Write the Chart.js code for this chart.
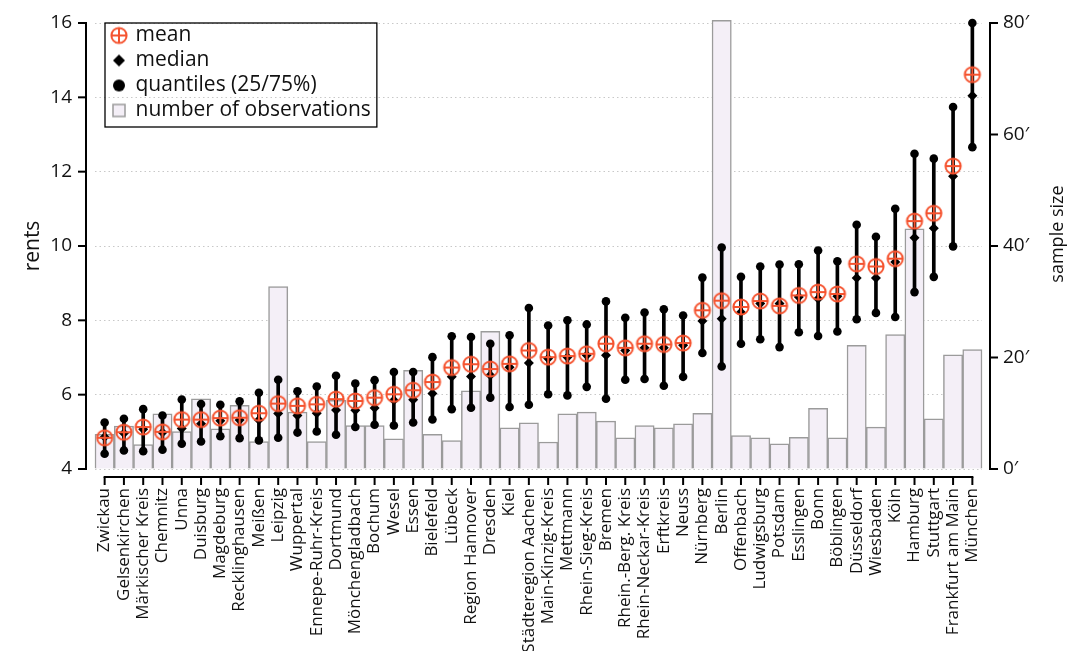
<!DOCTYPE html>
<html>
<head>
<meta charset="utf-8">
<script src="https://cdn.jsdelivr.net/npm/chart.js@4"></script>
<style>
    body { margin: 0; background: #fff; }
    #wrap { position: relative; width: 1070px; height: 651px; }
    #wrap canvas { position: absolute; left: 0; top: 0; }
    #overlay { pointer-events: none; }
</style>
</head>
<body>
<div id="wrap">
    <canvas id="rentChart" width="1070" height="651"></canvas>
    <canvas id="overlay" width="1070" height="651"></canvas>
</div>
<script>
// Data
const cities = ["Zwickau", "Gelsenkirchen", "Märkischer Kreis", "Chemnitz", "Unna", "Duisburg", "Magdeburg",
    "Recklinghausen", "Meißen", "Leipzig", "Wuppertal", "Ennepe-Ruhr-Kreis", "Dortmund", "Mönchengladbach",
    "Bochum", "Wesel", "Essen", "Bielefeld", "Lübeck", "Region Hannover", "Dresden", "Kiel",
    "Städteregion Aachen", "Main-Kinzig-Kreis", "Mettmann", "Rhein-Sieg-Kreis", "Bremen", "Rhein.-Berg. Kreis",
    "Rhein-Neckar-Kreis", "Erftkreis", "Neuss", "Nürnberg", "Berlin", "Offenbach", "Ludwigsburg", "Potsdam",
    "Esslingen", "Bonn", "Böblingen", "Düsseldorf", "Wiesbaden", "Köln", "Hamburg", "Stuttgart",
    "Frankfurt am Main", "München"];

const meanRent = [4.84, 4.99, 5.13, 5.00, 5.33, 5.33, 5.37, 5.38, 5.50, 5.76, 5.70, 5.74, 5.88, 5.83, 5.92,
    6.01, 6.12, 6.34, 6.73, 6.82, 6.69, 6.83, 7.19, 7.01, 7.04, 7.10, 7.37, 7.26, 7.37, 7.35, 7.39, 8.27,
    8.53, 8.36, 8.52, 8.39, 8.67, 8.76, 8.71, 9.52, 9.45, 9.66, 10.67, 10.88, 12.15, 14.61];

const medianRent = [4.86, 4.96, 5.07, 4.98, 5.09, 5.22, 5.30, 5.32, 5.32, 5.49, 5.44, 5.50, 5.59, 5.58, 5.64,
    5.85, 5.86, 6.03, 6.48, 6.49, 6.52, 6.74, 6.85, 6.97, 7.01, 7.06, 7.06, 7.19, 7.26, 7.26, 7.33, 7.98,
    8.04, 8.22, 8.45, 8.45, 8.63, 8.58, 8.65, 9.14, 9.14, 9.57, 10.22, 10.48, 11.88, 14.04];

const q25Rent = [4.41, 4.50, 4.48, 4.52, 4.68, 4.74, 4.88, 4.83, 4.77, 4.84, 4.98, 5.01, 4.92, 5.13, 5.19,
    5.17, 5.25, 5.33, 5.61, 5.65, 5.92, 5.67, 5.73, 6.01, 5.98, 6.21, 5.89, 6.40, 6.42, 6.24, 6.48, 7.12,
    6.76, 7.37, 7.49, 7.28, 7.68, 7.58, 7.70, 8.03, 8.20, 8.09, 8.76, 9.17, 9.99, 12.66];

const q75Rent = [5.25, 5.35, 5.61, 5.44, 5.87, 5.75, 5.73, 5.82, 6.05, 6.40, 6.09, 6.22, 6.51, 6.30, 6.39,
    6.61, 6.61, 7.01, 7.57, 7.55, 7.37, 7.60, 8.33, 7.86, 8.00, 7.89, 8.51, 8.07, 8.21, 8.30, 8.13, 9.15,
    9.96, 9.17, 9.45, 9.50, 9.51, 9.88, 9.59, 10.57, 10.25, 11.00, 12.48, 12.35, 13.74, 16.00];

// number of observations (thousands)
const sampleSize = [6.2, 7.7, 4.4, 9.9, 6.7, 12.6, 7.2, 11.4, 4.9, 32.7, 10.2, 4.9, 12.3, 7.8, 7.8, 5.4,
    17.7, 6.2, 5.1, 14.0, 24.7, 7.4, 8.3, 4.85, 9.9, 10.2, 8.6, 5.6, 7.8, 7.4, 8.1, 10.0, 80.5, 6.0, 5.6,
    4.5, 5.7, 10.9, 5.6, 22.2, 7.5, 24.1, 43.1, 9.0, 20.5, 21.4];

const rentTicks = [4, 6, 8, 10, 12, 14, 16];
const sizeTicks = [0, 20, 40, 60, 80];

const ORANGE = "#f5532f";
const BAR_FILL = "#f4eff7";
const BAR_EDGE = "#9b9b9b";
const FONT = "'Open Sans', sans-serif";

Chart.defaults.font.family = FONT;
Chart.defaults.color = "#111";

// marker pictures
function makeMarker(size, draw) {
    const c = document.createElement("canvas");
    c.width = size;
    c.height = size;
    draw(c.getContext("2d"), size / 2);
    return c;
}
const meanMarker = makeMarker(20, (g, m) => {
    g.strokeStyle = ORANGE;
    g.lineWidth = 2;
    g.beginPath();
    g.arc(m, m, 7.6, 0, Math.PI * 2);
    g.moveTo(m - 7.6, m); g.lineTo(m + 7.6, m);
    g.moveTo(m, m - 7.6); g.lineTo(m, m + 7.6);
    g.stroke();
});
const medianIcon = makeMarker(14, (g, m) => {
    g.fillStyle = "#000";
    g.beginPath();
    g.moveTo(m, m - 6); g.lineTo(m + 6, m); g.lineTo(m, m + 6); g.lineTo(m - 6, m);
    g.closePath();
    g.fill();
});
const quantIcon = makeMarker(14, (g, m) => {
    g.fillStyle = "#000";
    g.beginPath();
    g.arc(m, m, 6, 0, Math.PI * 2);
    g.fill();
});
const barIcon = makeMarker(16, (g, m) => {
    g.fillStyle = BAR_FILL;
    g.strokeStyle = BAR_EDGE;
    g.lineWidth = 1.5;
    g.fillRect(m - 6, m - 6, 12, 12);
    g.strokeRect(m - 6, m - 6, 12, 12);
});
const legendIcons = [meanMarker, medianIcon, quantIcon, barIcon];

function segment(g, x0, y0, x1, y1) {
    g.beginPath();
    g.moveTo(x0, y0);
    g.lineTo(x1, y1);
    g.stroke();
}

// offset spines, legend frame and right title, drawn on an overlay canvas
const spines = {
    id: "spines",
    afterLayout(chart) {
        const lg = chart.legend;
        const a = chart.chartArea;
        const w = lg.width, h = lg.height;
        lg.left = a.left + 14;
        lg.top = a.top - 2;
        lg.right = lg.left + w;
        lg.bottom = lg.top + h;
    },
    afterDraw(chart) {
        const { chartArea: a, scales } = chart;
        const ys = scales.y, y2 = scales.y2, xs = scales.x;
        const g = document.getElementById("overlay").getContext("2d");
        g.clearRect(0, 0, 1070, 651);
        g.save();
        g.strokeStyle = "#000";
        g.lineWidth = 2;
        g.lineCap = "butt";

        // category geometry from the x scale (known to work for the bottom spine)
        const firstX = xs.getPixelForTick(0);
        const lastX = xs.getPixelForTick(cities.length - 1);
        const step = (lastX - firstX) / (cities.length - 1);
        const plotLeft = firstX - step / 2;
        const plotRight = lastX + step / 2;
        const topY = y2.getPixelForValue(80);
        const botY = y2.getPixelForValue(0);
        const rentPx = v => {
            const p = ys.getPixelForValue(v);
            return isFinite(p) ? p : botY + (topY - botY) * (v - 4) / 12;
        };

        // left
        const lx = Math.round(plotLeft - 9);
        segment(g, lx, topY - 1, lx, botY + 1);
        rentTicks.forEach(v => {
            const p = rentPx(v);
            segment(g, lx - 8, p, lx, p);
        });
        // right
        const rx = Math.round(plotRight + 8);
        segment(g, rx, topY - 1, rx, botY + 1);
        sizeTicks.forEach(v => {
            const p = y2.getPixelForValue(v);
            segment(g, rx, p, rx + 8, p);
        });
        // bottom
        const by = Math.round(botY + 8);
        segment(g, firstX - 1, by, lastX + 1, by);
        cities.forEach((c, i) => {
            const p = xs.getPixelForTick(i);
            segment(g, p, by, p, by + 8);
        });

        // legend frame
        const lg = chart.legend;
        g.font = "21px " + FONT;
        const tw = g.measureText("number of observations").width;
        const x0 = lg.left - 4;
        const x1 = lg.left + 4 + 12 + 10.5 + tw + 6;
        const y0 = topY;
        const y1 = lg.top + 4 + 4 * 25 + 2;
        g.lineWidth = 1.3;
        g.strokeRect(x0, y0, x1 - x0, y1 - y0);

        // right axis title, reading upwards
        g.translate(1058, (topY + botY) / 2 - 12);
        g.rotate(-Math.PI / 2);
        g.fillStyle = "#111";
        g.font = "18px " + FONT;
        g.textAlign = "center";
        g.textBaseline = "middle";
        g.fillText("sample size", 0, 0);
        g.restore();
    }
};

new Chart(document.getElementById("rentChart"), {
    type: "bar",
    data: {
        labels: cities,
        datasets: [
            {
                type: "line",
                label: "mean",
                data: meanRent,
                yAxisID: "y",
                showLine: false,
                pointStyle: meanMarker,
                order: 0,
                clip: false,
            },
            {
                type: "line",
                label: "median",
                data: medianRent,
                yAxisID: "y",
                showLine: false,
                pointStyle: "rectRot",
                pointRadius: 5,
                backgroundColor: "#000",
                borderColor: "#000",
                borderWidth: 0,
                order: 1,
                clip: false,
            },
            {
                type: "line",
                label: "quantiles (25/75%)",
                data: q25Rent,
                yAxisID: "y",
                showLine: false,
                pointStyle: "circle",
                pointRadius: 4.3,
                backgroundColor: "#000",
                borderColor: "#000",
                borderWidth: 0,
                order: 2,
                clip: false,
            },
            {
                type: "line",
                label: "q75",
                data: q75Rent,
                yAxisID: "y",
                showLine: false,
                pointStyle: "circle",
                pointRadius: 4.3,
                backgroundColor: "#000",
                borderColor: "#000",
                borderWidth: 0,
                order: 2,
                clip: false,
            },
            {
                label: "range",
                data: q25Rent.map((lo, i) => [lo, q75Rent[i]]),
                yAxisID: "y",
                backgroundColor: "#000",
                barThickness: 3,
                grouped: false,
                order: 3,
            },
            {
                label: "number of observations",
                data: sampleSize,
                yAxisID: "y2",
                backgroundColor: BAR_FILL,
                borderColor: BAR_EDGE,
                borderWidth: 1.5,
                categoryPercentage: 1,
                barPercentage: 1,
                grouped: false,
                order: 4,
                clip: false,
            },
        ],
    },
    options: {
        responsive: false,
        animation: false,
        layout: { padding: { top: 23, left: 0, right: 0, bottom: 0 } },
        plugins: {
            tooltip: { enabled: false },
            legend: {
                position: "chartArea",
                align: "start",
                labels: {
                    usePointStyle: true,
                    boxWidth: 12,
                    padding: 4,
                    color: "#111",
                    font: { size: 21 },
                    generateLabels(chart) {
                        const items = Chart.defaults.plugins.legend.labels.generateLabels(chart)
                            .filter(it => [0, 1, 2, 5].includes(it.datasetIndex));
                        items.forEach((it, k) => { it.pointStyle = legendIcons[k]; });
                        return items;
                    },
                },
            },
        },
        scales: {
            x: {
                type: "category",
                afterFit(s) { s.height = 182; },
                border: { display: false },
                grid: { drawOnChartArea: false, tickColor: "transparent", tickLength: 16 },
                ticks: {
                    autoSkip: false,
                    maxRotation: 90,
                    minRotation: 90,
                    padding: 3,
                    color: "#111",
                    font: { size: 17 },
                },
            },
            y: {
                position: "left",
                min: 4,
                max: 16,
                afterFit(s) { s.width = 95; },
                afterBuildTicks(s) { s.ticks = rentTicks.map(v => ({ value: v })); },
                border: { display: false, dash: [1.5, 3] },
                grid: { color: "#c8c8c8", lineWidth: 1, tickColor: "transparent", tickLength: 14 },
                ticks: { padding: 9, color: "#111", font: { size: 19 } },
                title: { display: true, text: "rents", color: "#111", font: { size: 21 }, padding: { top: 20, bottom: 0 } },
            },
            y2: {
                position: "right",
                min: 0,
                max: 80,
                afterFit(s) { s.width = 88; },
                afterBuildTicks(s) { s.ticks = sizeTicks.map(v => ({ value: v })); },
                border: { display: false },
                grid: { drawOnChartArea: false, tickColor: "transparent", tickLength: 16 },
                ticks: { padding: 5, color: "#111", font: { size: 19 }, callback: v => v + "′" },
                title: { display: false },
            },
        },
    },
    plugins: [spines],
});
</script>
</body>
</html>
